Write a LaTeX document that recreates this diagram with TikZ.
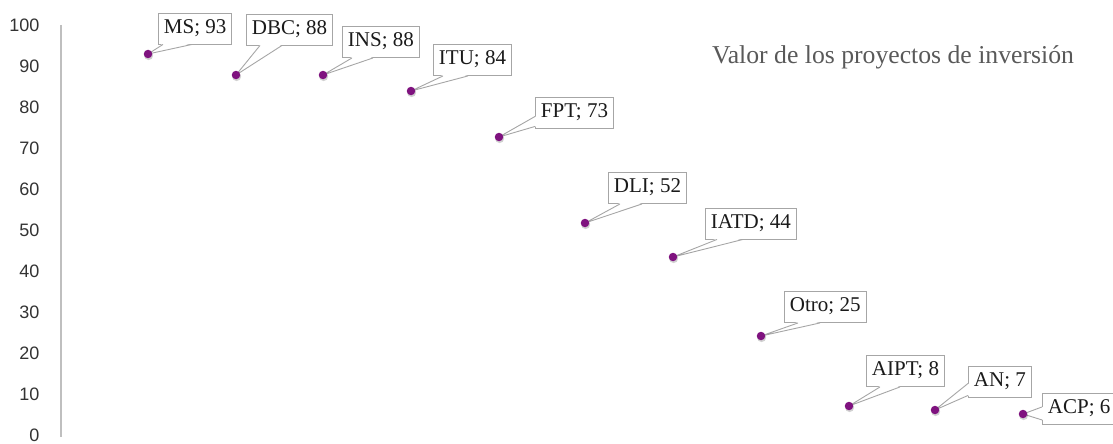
\documentclass[tikz,border=0pt]{standalone}
\usepackage{fontspec}
\setmainfont{Liberation Serif}
\newfontfamily\axisfont{Liberation Sans}
\usetikzlibrary{calc}

\definecolor{dotpurple}{HTML}{7F127F}
\definecolor{boxgray}{HTML}{A6A6A6}
\definecolor{titlegray}{HTML}{595959}
\definecolor{axisgray}{HTML}{BFBFBF}
\definecolor{ticktext}{HTML}{333333}
\definecolor{labeltext}{HTML}{1A1A1A}

% wedge of a callout leaving the bottom edge of a box
\newcommand\wedgebottom[4]{%
  \fill[white] ($(#1.south west)+(#3,-1)$) -- (#2) -- ($(#1.south west)+(#4,-1)$) -- cycle;
  \draw[callline] ($(#1.south west)+(#3,0)$) -- (#2) -- ($(#1.south west)+(#4,0)$);
}
% wedge of a callout leaving the left edge of a box
\newcommand\wedgeleft[4]{%
  \fill[white] ($(#1.south west)+(1,-#3)$) -- (#2) -- ($(#1.south west)+(1,-#4)$) -- cycle;
  \draw[callline] ($(#1.south west)+(0,-#3)$) -- (#2) -- ($(#1.south west)+(0,-#4)$);
}

\begin{document}
\begin{tikzpicture}[x=1pt,y=-1pt,
  callbox/.style={draw=boxgray, line width=0.9pt, fill=white, anchor=west,
    inner xsep=5.5pt, inner ysep=6.25pt, text height=14pt, text depth=4.5pt,
    text=labeltext, font=\fontsize{21}{25}\selectfont},
  callline/.style={draw=boxgray, line width=0.9pt, line join=round},
  datadot/.style={circle, fill=dotpurple, inner sep=0pt, minimum size=8.5pt},
  dotshadow/.style={circle, fill=black, opacity=0.18, inner sep=0pt, minimum size=9pt},
  ticklabel/.style={anchor=east, text=ticktext, font=\axisfont\fontsize{18}{20}\selectfont},
  charttitle/.style={text=titlegray, font=\fontsize{25.7}{30}\selectfont}]

\useasboundingbox (0,0) rectangle (1113,444);

% vertical axis and its scale
\draw[axisgray, line width=1.3pt] (61,25) -- (61,437);
\foreach \v [count=\i] in {0,10,...,100}
  \node[ticklabel] (tick\i) at (43,435-4.1*\v) {\v};

% chart title
\node[charttitle] (title) at (893,57) {Valor de los proyectos de inversión};

% data points
\coordinate (pMS)   at (148,54);
\coordinate (pDBC)  at (236,75);
\coordinate (pINS)  at (323,75);
\coordinate (pITU)  at (411,91);
\coordinate (pFPT)  at (499,137);
\coordinate (pDLI)  at (585,223);
\coordinate (pIATD) at (673,257);
\coordinate (pOtro) at (761,336);
\coordinate (pAIPT) at (849,406);
\coordinate (pAN)   at (935,410);
\coordinate (pACP)  at (1023,414);

% data labels
\node[callbox] (lMS)   at (158,28.5)  {MS; 93};
\node[callbox] (lDBC)  at (246,29.5)  {DBC; 88};
\node[callbox] (lINS)  at (342,42)    {INS; 88};
\node[callbox] (lITU)  at (433,60)    {ITU; 84};
\node[callbox] (lFPT)  at (535,112.5) {FPT; 73};
\node[callbox] (lDLI)  at (608,188)   {DLI; 52};
\node[callbox] (lIATD) at (705,223.5) {IATD; 44};
\node[callbox] (lOtro) at (784,307)   {Otro; 25};
\node[callbox] (lAIPT) at (866,371)   {AIPT; 8};
\node[callbox] (lAN)   at (968,381.5) {AN; 7};
\node[callbox] (lACP)  at (1042,409)  {ACP; 6};

% callout pointers
\wedgebottom{lMS}{pMS}{5}{34}
\wedgebottom{lDBC}{pDBC}{14}{36}
\wedgebottom{lINS}{pINS}{10}{31}
\wedgebottom{lITU}{pITU}{10}{35}
\wedgeleft{lFPT}{pFPT}{2}{12}
\wedgebottom{lDLI}{pDLI}{12}{34}
\wedgebottom{lIATD}{pIATD}{12}{38}
\wedgebottom{lOtro}{pOtro}{14}{36}
\wedgebottom{lAIPT}{pAIPT}{14}{34}
\wedgeleft{lAN}{pAN}{2}{14}
\wedgeleft{lACP}{pACP}{5}{18}

% markers
\foreach \p in {MS,DBC,INS,ITU,FPT,DLI,IATD,Otro,AIPT,AN,ACP}{
  \node[dotshadow] (s\p) at ($(p\p)+(0.6,1.6)$) {};
  \node[datadot] (d\p) at (p\p) {};
}
\end{tikzpicture}
\end{document}
